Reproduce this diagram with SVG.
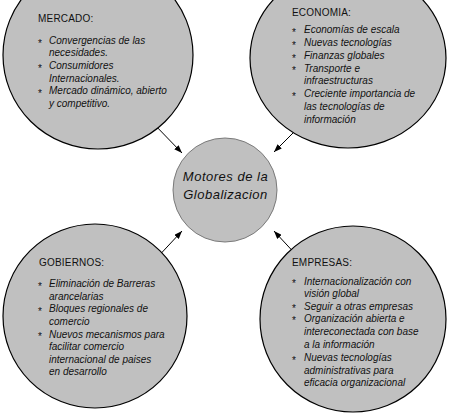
<svg xmlns="http://www.w3.org/2000/svg" width="450" height="413" viewBox="0 0 450 413">
<style>
.blob{fill:#c0c0c0;stroke:#000;stroke-width:1.2}
.core{fill:#c0c0c0;stroke:#7a7a7a;stroke-width:1}
.h{font-family:"Liberation Sans",Arial,sans-serif;font-size:10px;fill:#111;letter-spacing:0.2px}
.t{font-family:"Liberation Sans",Arial,sans-serif;font-size:10px;font-style:italic;fill:#111}
.b{font-family:"Liberation Sans",Arial,sans-serif;font-size:10px;fill:#111}
.c{font-family:"Liberation Sans",Arial,sans-serif;font-size:13px;font-style:italic;fill:#111;letter-spacing:0.5px;text-anchor:middle}
.con{stroke:#000;stroke-width:1;fill:none}
</style>
<defs>
<marker id="ah" viewBox="0 0 8 6" refX="8" refY="3" markerWidth="8" markerHeight="6" markerUnits="userSpaceOnUse" orient="auto">
<path d="M0,0 L8,3 L0,6 z" fill="#000"/>
</marker>
</defs>
<rect width="450" height="413" fill="#fff"/>
<g id="connectors">
<line class="con" x1="152" y1="122" x2="182" y2="153" marker-end="url(#ah)"/>
<line class="con" x1="303" y1="123" x2="274" y2="152" marker-end="url(#ah)"/>
<line class="con" x1="153" y1="262" x2="182" y2="231" marker-end="url(#ah)"/>
<line class="con" x1="300" y1="259" x2="274" y2="231" marker-end="url(#ah)"/>
</g>
<g id="mercado">
<ellipse class="blob" cx="98" cy="55" rx="95" ry="94"/>
<text class="h" x="38" y="21.5">MERCADO:</text>
<text class="b" x="38" y="46.5">*</text>
<text class="t" x="49" y="44">Convergencias de las</text>
<text class="t" x="49" y="56">necesidades.</text>
<text class="b" x="38" y="71.5">*</text>
<text class="t" x="49" y="69">Consumidores</text>
<text class="t" x="49" y="81.5">Internacionales.</text>
<text class="b" x="38" y="96.5">*</text>
<text class="t" x="49" y="94">Mercado dinámico, abierto</text>
<text class="t" x="49" y="107">y competitivo.</text>
</g>
<g id="economia">
<ellipse class="blob" cx="348" cy="58" rx="98" ry="90"/>
<text class="h" x="292" y="16">ECONOMIA:</text>
<text class="b" x="292" y="35.5">*</text>
<text class="t" x="304" y="33">Economías de escala</text>
<text class="b" x="292" y="48.5">*</text>
<text class="t" x="304" y="46">Nuevas tecnologías</text>
<text class="b" x="292" y="61.5">*</text>
<text class="t" x="304" y="59">Finanzas globales</text>
<text class="b" x="292" y="74">*</text>
<text class="t" x="304" y="71.5">Transporte e</text>
<text class="t" x="304" y="84">infraestructuras</text>
<text class="b" x="292" y="99.5">*</text>
<text class="t" x="304" y="97">Creciente importancia de</text>
<text class="t" x="304" y="110">las tecnologías de</text>
<text class="t" x="304" y="122.5">información</text>
</g>
<g id="motores">
<circle class="core" cx="225" cy="190" r="52"/>
<text class="c" x="225.5" y="181">Motores de la</text>
<text class="c" x="225.5" y="198.5">Globalizacion</text>
</g>
<g id="gobiernos">
<circle class="blob" cx="95" cy="316" r="92"/>
<text class="h" x="39" y="266">GOBIERNOS:</text>
<text class="b" x="38" y="289.5">*</text>
<text class="t" x="49" y="287">Eliminación de Barreras</text>
<text class="t" x="49" y="299.5">arancelarias</text>
<text class="b" x="38" y="314.5">*</text>
<text class="t" x="49" y="312">Bloques regionales de</text>
<text class="t" x="49" y="324.5">comercio</text>
<text class="b" x="38" y="340">*</text>
<text class="t" x="49" y="337.5">Nuevos mecanismos para</text>
<text class="t" x="49" y="350">facilitar comercio</text>
<text class="t" x="49" y="362.5">internacional de paises</text>
<text class="t" x="49" y="375">en desarrollo</text>
</g>
<g id="empresas">
<circle class="blob" cx="353" cy="319" r="93"/>
<text class="h" x="292" y="266">EMPRESAS:</text>
<text class="b" x="292" y="287">*</text>
<text class="t" x="304" y="284.5">Internacionalización con</text>
<text class="t" x="304" y="297">visión global</text>
<text class="b" x="292" y="312">*</text>
<text class="t" x="304" y="309.5">Seguir a otras empresas</text>
<text class="b" x="292" y="324">*</text>
<text class="t" x="304" y="321.5">Organización abierta e</text>
<text class="t" x="304" y="335">intereconectada con base</text>
<text class="t" x="304" y="347.5">a la información</text>
<text class="b" x="292" y="363.5">*</text>
<text class="t" x="304" y="361">Nuevas tecnologías</text>
<text class="t" x="304" y="373.5">administrativas para</text>
<text class="t" x="304" y="386">eficacia organizacional</text>
</g>
</svg>
